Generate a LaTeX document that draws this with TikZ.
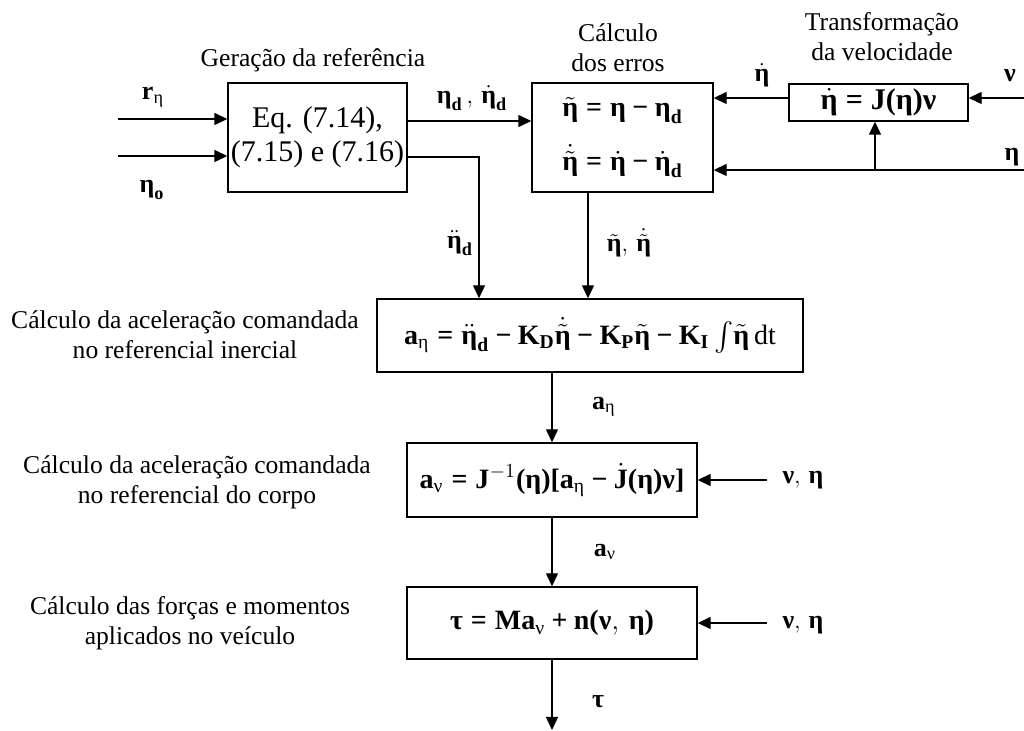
\documentclass[tikz,border=0pt]{standalone}
\usepackage{amsmath}
\usepackage{fontspec}
\setmainfont{Liberation Serif}
\usetikzlibrary{arrows.meta,calc}
\newcommand\bEta{\text{\bfseries η}}
\newcommand\bNu{\text{\bfseries ν}}
\newcommand\bTau{\text{\bfseries τ}}
\newcommand\sEta{\text{\mdseries η}}
\newcommand\sNu{\text{\mdseries ν}}
\newcommand\beq{\mathrel{\text{\bfseries =}}}
\newcommand\bmi{\mathbin{\text{\bfseries −}}}
\newcommand\bpl{\mathbin{\text{\bfseries +}}}
\newcommand\bpar[1]{\mathopen{\text{\bfseries (}}#1\mathclose{\text{\bfseries )}}}
\newcommand\bbrk[1]{\mathopen{\text{\bfseries [}}#1\mathclose{\text{\bfseries ]}}}
\begin{document}
\begin{tikzpicture}[x=0.5pt,y=-0.5pt,
  line width=0.7pt,
  arr/.style={-{Triangle[length=6.5pt,width=6pt]}},
  blk/.style={draw,inner sep=0pt,align=center,font=\fontsize{14}{17}\selectfont},
  lbl/.style={inner sep=0pt,align=center,font=\fontsize{12.8}{15}\selectfont},
  sym/.style={inner sep=0pt,font=\fontsize{13}{15}\selectfont}]
\useasboundingbox (0,0) rectangle (1024,731);
% blocks
\node[blk,minimum width=89.5pt,minimum height=54.5pt,font=\fontsize{15}{17}\selectfont] (b1) at (317.5,137.5) {Eq. (7.14),\\(7.15) e (7.16)};
\node[blk,minimum width=90.5pt,minimum height=54.5pt] (b2) at (622.5,137.5)
  {$\tilde{\bEta} \beq \bEta \bmi \bEta_{\mathbf d}$\\[10pt]$\dot{\tilde{\bEta}} \beq \dot{\bEta} \bmi \dot{\bEta}_{\mathbf d}$};
\node[blk,minimum width=89.5pt,minimum height=18.5pt,font=\fontsize{15}{17}\selectfont] (b3) at (878.5,102.5) {$\dot{\bEta} \beq \mathbf J\bpar{\bEta}\bNu$};
\node[blk,minimum width=213pt,minimum height=36.5pt] (b4) at (590,335.5)
  {$\mathbf a_{\sEta} \beq \ddot{\bEta}_{\mathbf d} \bmi \mathbf K_{\mathbf D}\dot{\tilde{\bEta}} \bmi \mathbf K_{\mathbf P}\tilde{\bEta} \bmi \mathbf K_{\mathbf I}\int\!\tilde{\bEta}\,\mathrm{dt}$};
\node[blk,minimum width=145pt,minimum height=37pt] (b5) at (552,480)
  {$\mathbf a_{\sNu} \beq \mathbf J^{-1}\bpar{\bEta}\bbrk{\mathbf a_{\sEta} \bmi \dot{\mathbf J}\bpar{\bEta}\bNu}$};
\node[blk,minimum width=145pt,minimum height=36pt] (b6) at (552,623)
  {$\bTau \beq \mathbf M\mathbf a_{\sNu} \bpl \mathbf n\bpar{\bNu,\,\bEta}$};
% titles
\node[lbl] (t1) at (313,60) {Geração da referência};
\node[lbl] (t2) at (618,48) {Cálculo\\dos erros};
\node[lbl] (t3) at (882,37) {Transformação\\da velocidade};
\node[lbl] (t4) at (185,335) {Cálculo da aceleração comandada\\no referencial inercial};
\node[lbl] (t5) at (197,482) {Cálculo da aceleração comandada\\no referencial do corpo};
\node[lbl] (t6) at (190,623) {Cálculo das forças e momentos\\aplicados no veículo};
% signal labels
\node[sym] (lr) at (153,97) {$\mathbf r_{\sEta}$};
\node[sym] (lo) at (152,190) {$\bEta_{\mathbf o}$};
\node[sym] (ld) at (472,98) {$\bEta_{\mathbf d}\,,\,\dot{\bEta}_{\mathbf d}$};
\node[sym] (ldot) at (762,75) {$\dot{\bEta}$};
\node[sym] (lnu) at (1010,76) {$\bNu$};
\node[sym] (leta) at (1012,157) {$\bEta$};
\node[sym] (ldd) at (460,243) {$\ddot{\bEta}_{\mathbf d}$};
\node[sym] (ltil) at (629,243) {$\tilde{\bEta},\,\dot{\tilde{\bEta}}$};
\node[sym] (lan) at (604,407) {$\mathbf a_{\sEta}$};
\node[sym] (lav) at (605,552) {$\mathbf a_{\sNu}$};
\node[sym] (ltau) at (598,702) {$\bTau$};
\node[sym] (lne5) at (803,480) {$\bNu,\,\bEta$};
\node[sym] (lne6) at (803,625) {$\bNu,\,\bEta$};
% coordinates
\coordinate (rin) at (118,119);
\coordinate (oin) at (118,156);
\coordinate (y121) at (0,121);
\coordinate (dd) at (479,157);
\coordinate (y98) at (0,98);
\coordinate (nuin) at (1024,98);
\coordinate (etain) at (1024,170);
\coordinate (br) at (875,170);
\coordinate (x588) at (588,0);
\coordinate (n5) at (767,480);
\coordinate (n6) at (767,623);
\coordinate (tauout) at (552,730);
% connectors
\draw[arr] (rin) -- (rin -| b1.west);
\draw[arr] (oin) -- (oin -| b1.west);
\draw[arr] (b1.east |- y121) -- (b2.west |- y121);
\draw[arr] (b1.east |- dd) -- (dd) -- (dd |- b4.north);
\draw[arr] (b3.west |- y98) -- (b2.east |- y98);
\draw[arr] (nuin) -- (nuin -| b3.east);
\draw[arr] (etain) -- (etain -| b2.east);
\draw[arr] (br) -- (br |- b3.south);
\draw[arr] (x588 |- b2.south) -- (x588 |- b4.north);
\draw[arr] (b5.north |- b4.south) -- (b5.north);
\draw[arr] (b5.south) -- (b6.north);
\draw[arr] (b6.south) -- (tauout);
\draw[arr] (n5) -- (b5.east);
\draw[arr] (n6) -- (b6.east);
\end{tikzpicture}
\end{document}
